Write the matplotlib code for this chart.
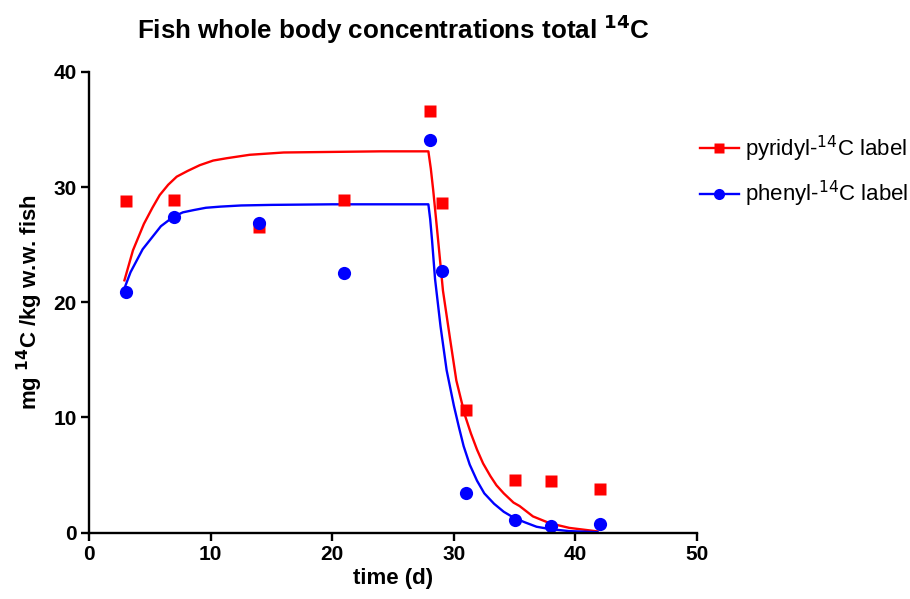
import numpy as np
import matplotlib.pyplot as plt

plt.rcParams['font.family'] = ['Liberation Sans', 'DejaVu Sans']

# measured points
t_obs = [3, 7, 14, 21, 28, 29, 31, 35, 38, 42]
pyridyl = [28.8, 28.9, 26.5, 28.9, 36.6, 28.6, 10.6, 4.6, 4.5, 3.8]
phenyl = [20.9, 27.4, 26.9, 22.5, 34.1, 22.7, 3.4, 1.1, 0.6, 0.7]

# fitted curves
t_fit_pyr = [2.9, 3.6, 4.5, 5.2, 5.8, 6.5, 7.2, 8.1, 9.1, 10.2, 11.3, 13.2, 16, 20, 24, 27.9,
             28.1, 28.3, 28.7, 29.1, 29.7, 30.2, 30.9, 31.4, 31.9, 32.4, 33.0, 33.5,
             34.1, 34.9, 35.4, 36.5, 37.9, 39.5, 41.8]
pyr_fit = [21.9, 24.5, 26.8, 28.2, 29.3, 30.2, 30.9, 31.4, 31.9, 32.3, 32.5, 32.8, 33.0, 33.05, 33.1, 33.1,
           31.6, 29.7, 25.4, 21.0, 16.7, 13.2, 10.2, 8.6, 7.2, 6.0, 4.9, 4.1,
           3.4, 2.6, 2.3, 1.4, 0.8, 0.4, 0.1]
t_fit_phe = [2.9, 3.4, 3.9, 4.4, 5.0, 5.9, 6.9, 7.7, 8.6, 9.6, 10.8, 12.5, 15, 20, 24, 27.9,
             28.05, 28.2, 28.45, 28.9, 29.4, 30.0, 30.4, 30.8, 31.3, 31.9, 32.5, 33.3,
             34.1, 34.9, 35.8, 36.8, 37.9, 39.5, 41.8]
phe_fit = [21.2, 22.6, 23.6, 24.6, 25.4, 26.6, 27.4, 27.8, 28.0, 28.2, 28.3, 28.4, 28.45, 28.5, 28.5, 28.5,
           27.2, 25.4, 22.0, 17.9, 14.1, 11.0, 9.2, 7.5, 5.9, 4.5, 3.4, 2.5,
           1.8, 1.3, 0.9, 0.5, 0.3, 0.12, 0.03]

fig = plt.figure(figsize=(9.10, 5.99), dpi=100)
ax = fig.add_axes([0.098, 0.111, 0.668, 0.769])

red = '#ff0000'
blue = '#0000ff'
ax.plot(t_fit_pyr, pyr_fit, color=red, lw=1.7)
ax.plot(t_fit_phe, phe_fit, color=blue, lw=1.7)
ax.plot(t_obs, pyridyl, 's', color=red, ms=8.5, mec='none', clip_on=False)
ax.plot(t_obs, phenyl, 'o', color=blue, ms=9.5, mec='none', clip_on=False)

# legend handles (line + marker)
h1, = ax.plot([], [], '-s', color=red, lw=1.7, ms=7.5, mec='none')
h2, = ax.plot([], [], '-o', color=blue, lw=1.7, ms=8, mec='none')
fig.legend([h1, h2], ['pyridyl-$^{14}$C label', 'phenyl-$^{14}$C label'],
           loc='upper left', bbox_to_anchor=(0.769, 0.777), frameon=False,
           fontsize=16, handlelength=1.75, labelspacing=0.68, handletextpad=0.3,
           borderaxespad=0.0, borderpad=0.0)

ax.set_xlim(0, 50)
ax.set_ylim(0, 40)
ax.set_xticks([0, 10, 20, 30, 40, 50])
ax.set_yticks([0, 10, 20, 30, 40])
for s in ['top', 'right']:
    ax.spines[s].set_visible(False)
for s in ['left', 'bottom']:
    ax.spines[s].set_linewidth(1.7)
ax.tick_params(width=1.7, length=6, labelsize=15, pad=3)
for lab in ax.get_xticklabels() + ax.get_yticklabels():
    lab.set_fontweight('bold')

ax.set_xlabel('time (d)', fontsize=16, fontweight='bold', labelpad=3)
ax.set_ylabel('mg $^{\\mathbf{14}}$C /kg w.w. fish', fontsize=16, fontweight='bold', labelpad=6)
ax.set_title('Fish whole body concentrations total $^{\\mathbf{14}}$C',
             fontsize=18.7, fontweight='bold', pad=24)

fig.savefig('out.png', dpi=100)
